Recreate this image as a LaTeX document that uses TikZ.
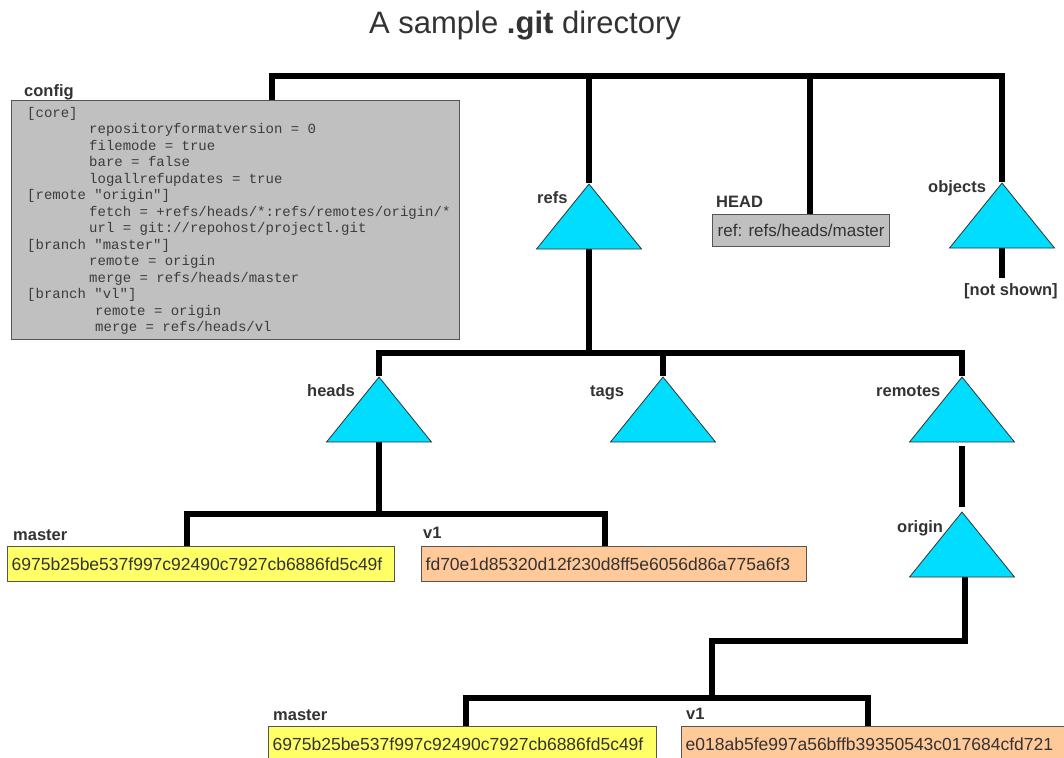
\documentclass[tikz,border=0pt]{standalone}
\usepackage{fontspec}
\setmainfont{Liberation Sans}
\newfontfamily\cfgmono{Liberation Mono}
\usetikzlibrary{shapes.geometric,backgrounds}
\definecolor{tri}{RGB}{0,221,255}
\definecolor{triline}{RGB}{50,50,50}
\definecolor{graybox}{RGB}{192,192,192}
\definecolor{boxline}{RGB}{85,85,85}
\definecolor{yellowbox}{RGB}{255,255,102}
\definecolor{peachbox}{RGB}{255,201,153}
\definecolor{lbltext}{RGB}{51,51,51}
\definecolor{boxtext}{RGB}{51,51,51}
\definecolor{cfgtext}{RGB}{60,60,60}
\begin{document}
\begin{tikzpicture}[x=1pt,y=-1pt,
  conn/.style={line width=5.5pt,black,line join=miter},
  dirtri/.style={isosceles triangle, isosceles triangle stretches, shape border rotate=90,
    minimum width=105pt, minimum height=65pt, inner sep=0pt, fill=tri, draw=triline,
    line width=0.8pt, anchor=apex},
  lbl/.style={font=\bfseries\fontsize{16.5}{18}\selectfont, text=lbltext, inner sep=0pt, anchor=base west},
  hashbox/.style={draw=boxline, line width=1.3pt, minimum height=35pt, anchor=north west,
    inner xsep=4pt, inner ysep=0pt, font=\fontsize{17.5}{20}\selectfont, text=boxtext, align=left},
]
\useasboundingbox (0,0) rectangle (1064,757);
\clip (0,0) rectangle (1064,757);

% title
\node[font=\fontsize{31}{36}\selectfont, text=lbltext, anchor=base] (title) at (525,34)
  {A sample \textbf{.git} directory};

% config
\node[lbl] (cfglbl) at (24,97) {config};
\node[draw=boxline, fill=graybox, line width=1.3pt, anchor=north west, minimum width=448pt,
  minimum height=239pt, inner sep=0pt] (cfg) at (11,100) {};
\node[anchor=north west, inner sep=0pt, align=left, text=cfgtext,
  font=\cfgmono\fontsize{14}{16.5}\selectfont] (cfgtxt) at (27,107)
  {{[}core]\\
   \hspace*{62pt}repositoryformatversion = 0\\
   \hspace*{62pt}filemode = true\\
   \hspace*{62pt}bare = false\\
   \hspace*{62pt}logallrefupdates = true\\
   {[}remote "origin"]\\
   \hspace*{62pt}fetch = +refs/heads/*:refs/remotes/origin/*\\
   \hspace*{62pt}url = git://repohost/projectl.git\\
   {[}branch "master"]\\
   \hspace*{62pt}remote = origin\\
   \hspace*{62pt}merge = refs/heads/master\\
   {[}branch "vl"]\\
   \hspace*{68pt}remote = origin\\
   \hspace*{68pt}merge = refs/heads/vl};

% refs, HEAD, objects
\node[dirtri] (refsT) at (589,183) {};
\node[lbl] (refslbl) at (537,203) {refs};
\node[lbl] (headlbl) at (716,207) {HEAD};
\node[draw=boxline, fill=graybox, line width=1.3pt, anchor=north west, minimum width=177pt,
  minimum height=32pt, inner xsep=4pt, inner ysep=0pt,
  font=\fontsize{17}{20}\selectfont, text=boxtext] (headbox) at (712,214) {ref: refs/heads/master};
\node[dirtri] (objT) at (1002,182) {};
\node[lbl] (objlbl) at (928,192) {objects};
\node[lbl] (notshown) at (964,295) {{[}not shown]};

% heads, tags, remotes
\node[dirtri] (headsT) at (379,376) {};
\node[lbl] (headslbl) at (307,396) {heads};
\node[dirtri] (tagsT) at (663,376) {};
\node[lbl] (tagslbl) at (590,396) {tags};
\node[dirtri] (remT) at (962,376) {};
\node[lbl] (remlbl) at (876,396) {remotes};

% local branches
\node[lbl] (m1lbl) at (13,540) {master};
\node[hashbox, fill=yellowbox, text width=379pt] (m1box) at (7,546) {6975b25be537f997c92490c7927cb6886fd5c49f};
\node[lbl] (v1lbl) at (423,538) {v1};
\node[hashbox, fill=peachbox, text width=377pt] (v1box) at (421,546) {fd70e1d85320d12f230d8ff5e6056d86a775a6f3};

% origin
\node[dirtri] (origT) at (962,511) {};
\node[lbl] (origlbl) at (897,532) {origin};

% remote branches
\node[lbl] (m2lbl) at (273,720) {master};
\node[hashbox, fill=yellowbox, text width=380pt, minimum height=36pt] (m2box) at (268,726) {6975b25be537f997c92490c7927cb6886fd5c49f};
\node[lbl] (v2lbl) at (686,719) {v1};
\node[hashbox, fill=peachbox, text width=382pt, minimum height=36pt] (v2box) at (681,726) {e018ab5fe997a56bffb39350543c017684cfd721};

% connector anchor points
\coordinate (bar1) at (0,76);
\coordinate (bar2) at (0,353);
\coordinate (bar3) at (0,514);
\coordinate (bar5) at (0,698);
\coordinate (jn) at (712,641);
\coordinate (cfgstub) at (272,100);
\coordinate (headstub) at (810,214);
\coordinate (m1stub) at (187,546);
\coordinate (v1stub) at (605,546);
\coordinate (m2stub) at (466,726);
\coordinate (v2stub) at (868,726);

\begin{scope}[on background layer]
\fill[white] (0,0) rectangle (1064,757);
\draw[conn] (cfgstub) |- (bar1 -| objT.apex) -- (objT.apex);
\draw[conn] (refsT.apex) -- (refsT.apex |- bar1);
\draw[conn] (headstub) -- (headstub |- bar1);
\draw[conn, shorten >=5pt] (objT.lower side) -- (notshown.north -| objT.lower side);
\draw[conn] (refsT.lower side) -- (refsT.lower side |- bar2);
\draw[conn] (headsT.apex) |- (bar2 -| remT.apex) -- (remT.apex);
\draw[conn] (tagsT.apex) -- (tagsT.apex |- bar2);
\draw[conn] (headsT.lower side) -- (headsT.lower side |- bar3);
\draw[conn] (m1stub) |- (bar3 -| v1stub) -- (v1stub);
\draw[conn, shorten <=4pt, shorten >=4pt] (remT.lower side) -- (origT.apex);
\draw[conn] ([xshift=3pt]origT.lower side) |- (jn) -- (jn |- bar5);
\draw[conn] (m2stub) |- (bar5 -| v2stub) -- (v2stub);
\end{scope}
\end{tikzpicture}
\end{document}
